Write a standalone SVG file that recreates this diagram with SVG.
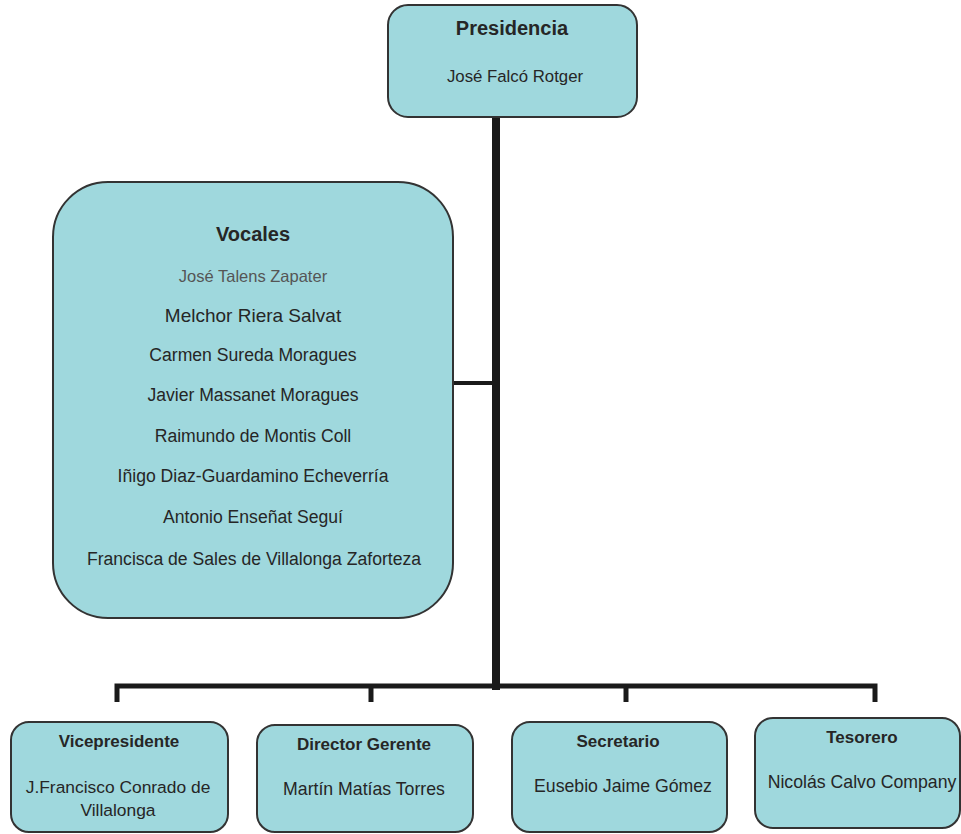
<svg xmlns="http://www.w3.org/2000/svg" width="961" height="834" viewBox="0 0 961 834">
<style>
.box{fill:#9fd8dd;stroke:#333;stroke-width:2}
.t{font-family:"Liberation Sans",Arial,sans-serif;fill:#262626;text-anchor:middle}
.h{font-weight:bold;font-size:17px}
.n{font-size:17.7px}
.v{font-size:17.6px}
.line{stroke:#1a1a1a;fill:none;stroke-linecap:butt}
</style>
<rect width="961" height="834" fill="#fff"/>
<g id="connectors">
<line class="line" x1="496" y1="117" x2="496" y2="690" stroke-width="8"/>
<line class="line" x1="454" y1="383" x2="496" y2="383" stroke-width="4"/>
<polyline class="line" points="117,702 117,686 875,686 875,702" stroke-width="5"/>
<line class="line" x1="371" y1="686" x2="371" y2="702" stroke-width="5"/>
<line class="line" x1="626" y1="686" x2="626" y2="702" stroke-width="5"/>
</g>
<g id="presidencia">
<rect class="box" x="388" y="5" width="249" height="112" rx="20"/>
<text class="t" x="512" y="35" style="font-weight:bold;font-size:20px">Presidencia</text>
<text class="t" x="515" y="82" style="font-size:16.8px">José Falcó Rotger</text>
</g>
<g id="vocales">
<rect class="box" x="53" y="182" width="400" height="436" rx="55"/>
<text class="t" x="253" y="241" style="font-weight:bold;font-size:20px">Vocales</text>
<text class="t" x="253" y="282" style="font-size:16.5px;fill:#555">José Talens Zapater</text>
<text class="t" x="253" y="322" style="font-size:19px">Melchor Riera Salvat</text>
<text class="t v" x="253" y="361">Carmen Sureda Moragues</text>
<text class="t v" x="253" y="401">Javier Massanet Moragues</text>
<text class="t v" x="253" y="442">Raimundo de Montis Coll</text>
<text class="t v" x="253" y="482">Iñigo Diaz-Guardamino Echeverría</text>
<text class="t v" x="253" y="523">Antonio Enseñat Seguí</text>
<text class="t v" x="254" y="565">Francisca de Sales de Villalonga Zaforteza</text>
</g>
<g id="vicepresidente">
<rect class="box" x="11" y="722" width="217" height="110" rx="18"/>
<text class="t h" x="119" y="747">Vicepresidente</text>
<text class="t n" x="118" y="793" style="font-size:17.4px">J.Francisco Conrado de</text>
<text class="t n" x="118" y="816" style="font-size:17.4px">Villalonga</text>
</g>
<g id="director">
<rect class="box" x="257" y="725" width="216" height="107" rx="18"/>
<text class="t h" x="364" y="750">Director Gerente</text>
<text class="t n" x="364" y="795">Martín Matías Torres</text>
</g>
<g id="secretario">
<rect class="box" x="512" y="722" width="215" height="110" rx="18"/>
<text class="t h" x="618" y="747">Secretario</text>
<text class="t n" x="623" y="792">Eusebio Jaime Gómez</text>
</g>
<g id="tesorero">
<rect class="box" x="755" y="718" width="205" height="110" rx="18"/>
<text class="t h" x="862" y="743">Tesorero</text>
<text class="t n" x="862" y="788">Nicolás Calvo Company</text>
</g>
</svg>
